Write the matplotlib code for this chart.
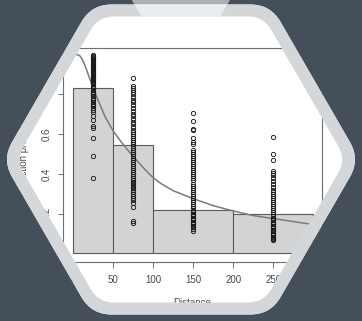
import numpy as np
import matplotlib
matplotlib.use("Agg")
import matplotlib.pyplot as plt
from matplotlib.path import Path
from matplotlib.patches import PathPatch, Polygon

# ---- data -------------------------------------------------------------
bin_edges = [0, 50, 100, 200, 300]
bin_heights = [0.83, 0.545, 0.218, 0.200]

col_x = [25, 75, 150, 250]
col_25 = [0.38, 0.49, 0.58, 0.63, 0.64, 0.67, 0.69, 0.71,
          0.72, 0.73, 0.74, 0.745, 0.75, 0.76, 0.77, 0.775, 0.78, 0.79,
          0.80, 0.805, 0.81, 0.82, 0.83, 0.835, 0.84, 0.85, 0.855, 0.86,
          0.865, 0.87, 0.875, 0.88, 0.885, 0.89, 0.895, 0.90, 0.905, 0.91,
          0.915, 0.92, 0.925, 0.93, 0.935, 0.94, 0.945, 0.95, 0.955, 0.96,
          0.965, 0.97, 0.975, 0.98, 0.985, 0.99, 0.995, 1.0]
col_75 = [0.155, 0.165, 0.235, 0.255, 0.27, 0.28, 0.29, 0.30, 0.31, 0.32,
          0.33, 0.335, 0.345, 0.355, 0.36, 0.37, 0.38, 0.39, 0.40, 0.41,
          0.42, 0.43, 0.44, 0.45, 0.46, 0.47, 0.48, 0.49, 0.50, 0.51, 0.52,
          0.53, 0.54, 0.55, 0.56, 0.57, 0.58, 0.59, 0.60, 0.61, 0.62, 0.635,
          0.65, 0.66, 0.675, 0.69, 0.70, 0.715, 0.73, 0.745, 0.76, 0.77,
          0.785, 0.80, 0.81, 0.82, 0.83, 0.84, 0.88]
col_150 = [0.115, 0.125, 0.135, 0.14, 0.15, 0.155, 0.16, 0.17, 0.175, 0.18,
           0.19, 0.195, 0.20, 0.21, 0.215, 0.22, 0.23, 0.24, 0.25, 0.26,
           0.27, 0.28, 0.29, 0.30, 0.31, 0.32, 0.33, 0.34, 0.35, 0.37,
           0.38, 0.39, 0.40, 0.41, 0.42, 0.43, 0.44, 0.45, 0.46, 0.47, 0.48,
           0.49, 0.50, 0.51, 0.52, 0.55, 0.56, 0.58, 0.62, 0.625, 0.665, 0.705]
col_250 = [0.065, 0.07, 0.075, 0.08, 0.09, 0.095, 0.10, 0.11, 0.115, 0.12,
           0.13, 0.135, 0.14, 0.15, 0.155, 0.16, 0.17, 0.175, 0.18, 0.19,
           0.20, 0.21, 0.22, 0.23, 0.24, 0.25, 0.26, 0.27, 0.28, 0.29, 0.30,
           0.31, 0.32, 0.335, 0.35, 0.365, 0.38, 0.395, 0.405, 0.415, 0.47,
           0.50, 0.585]
columns = [col_25, col_75, col_150, col_250]

curve_x = [0, 5, 8, 12, 16, 20, 25, 30, 40, 50, 60, 70, 80, 90, 100, 110,
           125, 150, 175, 200, 225, 250, 275, 298]
curve_y = [1.0, 1.0, 0.995, 0.97, 0.93, 0.885, 0.83, 0.78, 0.685, 0.615,
           0.56, 0.51, 0.465, 0.42, 0.38, 0.35, 0.315, 0.275, 0.24, 0.213,
           0.19, 0.175, 0.16, 0.146]

x_ticks = [0, 50, 100, 150, 200, 250, 300]
y_ticks = [0.0, 0.2, 0.4, 0.6, 0.8, 1.0]
y_tick_labels = ["0.0", "0.2", "0.4", "0.6", "0.8", "1.0"]

# ---- figure -----------------------------------------------------------
W, H = 362, 321
fig = plt.figure(figsize=(W / 100, H / 100), dpi=100)
fig.patch.set_facecolor("white")
plt.rcParams["font.family"] = ["Liberation Sans", "DejaVu Sans"]

TXT = "#4a4a4a"
FS = 7

# plot region in pixel coordinates
L, R_, T, B = 63.0, 321.7, 47.7, 261.7
ax = fig.add_axes([L / W, 1 - B / H, (R_ - L) / W, (B - T) / H], zorder=1)
ax.set_xlim(-12.9, 310.5)
ax.set_ylim(-0.042, 1.035)

widths = np.diff(bin_edges)
ax.bar(bin_edges[:-1], bin_heights, width=widths, align="edge",
       color="#d3d3d3", edgecolor="#5a5a5a", linewidth=0.8, zorder=2)
ax.plot(curve_x, curve_y, color="#7a7a7a", lw=1.1, zorder=3)
for xv, vals in zip(col_x, columns):
    ax.plot([xv] * len(vals), vals, "o", mfc="none", mec="#1a1a1a",
            ms=3.1, mew=0.65, zorder=4)

for s in ax.spines.values():
    s.set_color("#6e6e6e")
    s.set_linewidth(0.8)
ax.set_xticks(x_ticks)
ax.set_yticks(y_ticks)
ax.set_yticklabels(y_tick_labels, rotation=90, va="center", ha="center")
ax.tick_params(axis="x", length=4.2, width=0.7, color="#6e6e6e",
               labelsize=FS, labelcolor=TXT, pad=5.5)
ax.tick_params(axis="y", length=3.6, width=0.7, color="#6e6e6e",
               labelsize=FS, labelcolor=TXT, pad=8.3)

fig.text(192.4 / W, 1 - 305.5 / H, "Distance", ha="center", va="baseline",
         fontsize=FS, color=TXT)
fig.text(24 / W, 1 - 152 / H, "Detection probability", rotation=90,
         ha="center", va="center", fontsize=FS, color=TXT)


# ---- hexagonal frame drawn over the plot -------------------------------
def rounded_hex(cx, cy, rx, ry, r, reverse=False):
    pts = [(cx - rx, cy), (cx - rx / 2, cy - ry), (cx + rx / 2, cy - ry),
           (cx + rx, cy), (cx + rx / 2, cy + ry), (cx - rx / 2, cy + ry)]
    if reverse:
        pts = pts[::-1]
    pts = [np.array(p, float) for p in pts]
    n = len(pts)
    verts, codes = [], []
    for i in range(n):
        p, prv, nxt = pts[i], pts[i - 1], pts[(i + 1) % n]
        a = p + r * (prv - p) / np.linalg.norm(prv - p)
        b = p + r * (nxt - p) / np.linalg.norm(nxt - p)
        verts.append(a)
        codes.append(Path.MOVETO if i == 0 else Path.LINETO)
        verts += [p, b]
        codes += [Path.CURVE3, Path.CURVE3]
    verts.append(verts[0])
    codes.append(Path.CLOSEPOLY)
    return Path(verts, codes)


frame = fig.add_axes([0, 0, 1, 1], zorder=5)
frame.set_xlim(0, W)
frame.set_ylim(H, 0)
frame.axis("off")
frame.patch.set_alpha(0)

CX, CY = 181, 159.5
outer = rounded_hex(CX, CY, 179, 155, 20)
outer_hole = rounded_hex(CX, CY, 179, 155, 20, reverse=True)
inner_hole = rounded_hex(CX, CY, 165, 143, 15, reverse=True)
rect = Path([(0, 0), (W, 0), (W, H), (0, H), (0, 0)],
            [Path.MOVETO, Path.LINETO, Path.LINETO, Path.LINETO, Path.CLOSEPOLY])

frame.add_patch(PathPatch(Path.make_compound_path(rect, outer_hole),
                          facecolor="#454f59", edgecolor="none"))
frame.add_patch(PathPatch(Path.make_compound_path(outer, inner_hole),
                          facecolor="#d4d7da", edgecolor="none"))
frame.add_patch(Polygon([(131.7, 0), (230, 0), (220, 16.5), (141.7, 16.5)],
                        closed=True, facecolor="white", alpha=0.55,
                        edgecolor="none"))

fig.savefig("out.png", dpi=100)
